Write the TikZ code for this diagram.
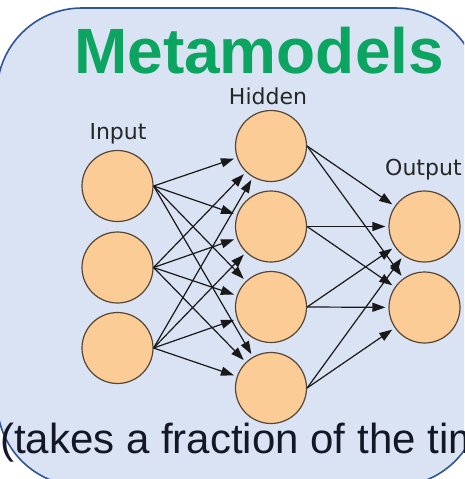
\documentclass[tikz,border=0pt]{standalone}
\usepackage{fontspec}
\setmainfont{Liberation Sans}
\newfontfamily\labelfont{DejaVu Sans}
\usetikzlibrary{arrows.meta}
\definecolor{panelfill}{RGB}{218,227,243}
\definecolor{panelline}{RGB}{47,85,151}
\definecolor{titlegreen}{RGB}{12,164,97}
\definecolor{peach}{RGB}{251,204,150}
\definecolor{ringline}{RGB}{85,70,55}
\definecolor{textnavy}{RGB}{20,24,38}
\begin{document}
\begin{tikzpicture}[x=1pt,y=-1pt,
  neuron/.style={circle, fill=peach, draw=ringline, line width=1.2pt, minimum size=71pt, inner sep=0pt},
  link/.style={draw=black!90, line width=1.2pt, shorten >=3pt, -{Triangle[length=13pt,width=9pt]}},
  layerlabel/.style={font=\labelfont\fontsize{22}{22}\selectfont, text=black!85, inner sep=0pt}]
\useasboundingbox (0,0) rectangle (464,479);
\clip (0,0) rectangle (464,479);
\draw [fill=panelfill, draw=panelline, line width=1.6pt, rounded corners=85pt] (-3,8) rectangle (480,486);
\node [anchor=base west, inner sep=0pt, text=titlegreen, font=\bfseries\fontsize{64}{64}\selectfont] (title) at (74,73) {Metamodels};
% layer labels
\node [layerlabel] (inlabel) at (118,134) {Input};
\node [layerlabel] (hidlabel) at (268,96) {Hidden};
\node [layerlabel, anchor=west] (outlabel) at (385,170) {Output};
% input layer
\node [neuron] (i1) at (117.5,186) {};
\node [neuron] (i2) at (117.5,267.5) {};
\node [neuron] (i3) at (117.5,348) {};
% hidden layer
\node [neuron] (h1) at (271,146) {};
\node [neuron] (h2) at (271,226.5) {};
\node [neuron] (h3) at (271,307) {};
\node [neuron] (h4) at (271,388) {};
% output layer
\node [neuron] (o1) at (424.5,226.5) {};
\node [neuron] (o2) at (424.5,307.5) {};
% input to hidden
\draw [link] (i1.east) -- (h1);
\draw [link] (i1.east) -- (h2);
\draw [link] (i1.east) -- (h3);
\draw [link] (i1.east) -- (h4);
\draw [link] (i2.east) -- (h1);
\draw [link] (i2.east) -- (h2);
\draw [link] (i2.east) -- (h3);
\draw [link] (i2.east) -- (h4);
\draw [link] (i3.east) -- (h1);
\draw [link] (i3.east) -- (h2);
\draw [link] (i3.east) -- (h3);
\draw [link] (i3.east) -- (h4);
% hidden to output
\draw [link] (h1.east) -- (o1);
\draw [link] (h1.east) -- (o2);
\draw [link] (h2.east) -- (o1);
\draw [link] (h2.east) -- (o2);
\draw [link] (h3.east) -- (o1);
\draw [link] (h3.east) -- (o2);
\draw [link] (h4.east) -- (o1);
\draw [link] (h4.east) -- (o2);
\node [anchor=base west, inner sep=0pt, text=textnavy, font=\fontsize{42}{42}\selectfont] (note) at (0,453) {(takes a fraction of the time)};
\end{tikzpicture}
\end{document}
